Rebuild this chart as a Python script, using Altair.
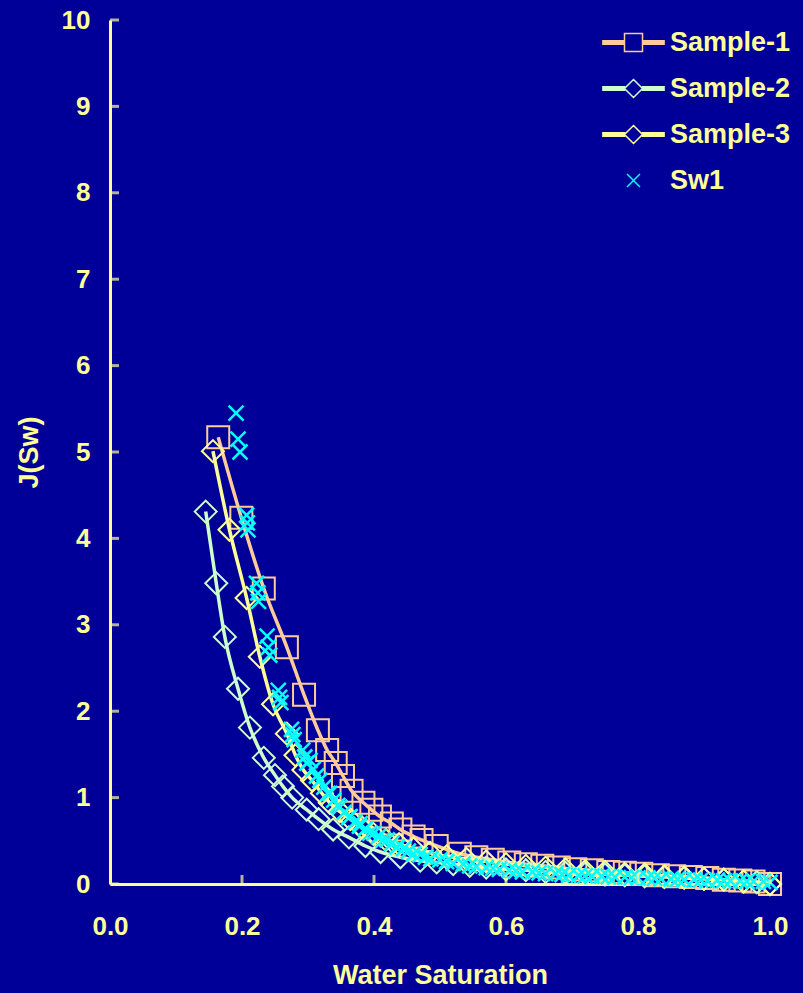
import altair as alt
import pandas as pd

# ---- data -------------------------------------------------------------
SERIES = ["Sample-1", "Sample-2", "Sample-3", "Sw1"]
COLORS = ["#FFCC99", "#CCFFCC", "#FFFF99", "#00FFFF"]

s1_sw = [0.164, 0.199, 0.233, 0.268, 0.294, 0.315, 0.329, 0.342, 0.353, 0.366,
         0.384, 0.396, 0.409, 0.427, 0.440, 0.460, 0.472, 0.495, 0.530, 0.555,
         0.580, 0.605, 0.630, 0.655, 0.680, 0.705, 0.730, 0.755, 0.780, 0.805,
         0.830, 0.855, 0.880, 0.905, 0.930, 0.955, 0.975, 1.000]
s1_j = [5.17, 4.24, 3.42, 2.74, 2.19, 1.78, 1.55, 1.40, 1.25, 1.08,
        0.94, 0.86, 0.78, 0.70, 0.63, 0.55, 0.51, 0.44, 0.35, 0.31,
        0.28, 0.25, 0.23, 0.21, 0.19, 0.17, 0.16, 0.14, 0.13, 0.12,
        0.10, 0.09, 0.08, 0.07, 0.05, 0.04, 0.03, 0.00]

s2_sw = [0.145, 0.161, 0.174, 0.194, 0.212, 0.233, 0.250, 0.262, 0.276, 0.298,
         0.316, 0.338, 0.362, 0.387, 0.410, 0.440, 0.470, 0.495, 0.520, 0.545,
         0.570, 0.600, 0.630, 0.660, 0.690, 0.720, 0.750, 0.780, 0.810, 0.840,
         0.870, 0.900, 0.930, 0.960, 0.980, 1.000]
s2_j = [4.31, 3.48, 2.86, 2.26, 1.81, 1.46, 1.26, 1.13, 1.00, 0.86,
        0.75, 0.63, 0.54, 0.44, 0.37, 0.31, 0.27, 0.25, 0.23, 0.21,
        0.19, 0.17, 0.16, 0.14, 0.13, 0.12, 0.11, 0.10, 0.09, 0.08,
        0.07, 0.06, 0.05, 0.03, 0.02, 0.00]

s3_sw = [0.156, 0.181, 0.207, 0.227, 0.247, 0.268, 0.281, 0.293, 0.306, 0.321,
         0.333, 0.348, 0.364, 0.381, 0.399, 0.418, 0.438, 0.460, 0.485, 0.510,
         0.540, 0.570, 0.600, 0.630, 0.660, 0.690, 0.720, 0.750, 0.780, 0.810,
         0.840, 0.870, 0.900, 0.930, 0.960, 1.000]
s3_j = [5.01, 4.10, 3.31, 2.63, 2.08, 1.74, 1.49, 1.32, 1.20, 1.05,
        0.94, 0.84, 0.75, 0.66, 0.58, 0.51, 0.46, 0.41, 0.36, 0.32,
        0.29, 0.26, 0.23, 0.21, 0.19, 0.17, 0.15, 0.14, 0.12, 0.11,
        0.09, 0.08, 0.06, 0.05, 0.03, 0.00]

sw1_sw = [0.191, 0.194, 0.197, 0.207, 0.208, 0.209, 0.222, 0.224, 0.225,
          0.238, 0.240, 0.242, 0.255, 0.257, 0.259, 0.275, 0.277, 0.279,
          0.292, 0.295, 0.298, 0.303, 0.308, 0.313, 0.318, 0.324, 0.330,
          0.333, 0.339, 0.345, 0.348, 0.355, 0.362, 0.364, 0.371, 0.378,
          0.379, 0.387, 0.394, 0.400, 0.407, 0.414, 0.420, 0.427, 0.435,
          0.445, 0.452, 0.460, 0.470, 0.478, 0.486, 0.500, 0.510, 0.520,
          0.535, 0.545, 0.555, 0.570, 0.580, 0.590, 0.605, 0.615, 0.625,
          0.640, 0.650, 0.660, 0.675, 0.685, 0.695, 0.710, 0.720, 0.730,
          0.745, 0.755, 0.765, 0.780, 0.790, 0.800, 0.815, 0.825, 0.835,
          0.850, 0.860, 0.870, 0.885, 0.895, 0.905, 0.920, 0.930, 0.940,
          0.955, 0.965, 0.975, 0.990, 1.000]
sw1_j = [5.45, 5.15, 5.00, 4.27, 4.18, 4.10, 3.48, 3.37, 3.27,
         2.87, 2.74, 2.65, 2.24, 2.16, 2.10, 1.79, 1.73, 1.67,
         1.55, 1.47, 1.40, 1.43, 1.33, 1.25, 1.20, 1.12, 1.05,
         1.05, 0.97, 0.91, 0.89, 0.83, 0.77, 0.78, 0.72, 0.67,
         0.70, 0.64, 0.59, 0.59, 0.55, 0.51, 0.51, 0.47, 0.43,
         0.41, 0.38, 0.35, 0.34, 0.31, 0.29, 0.28, 0.26, 0.24,
         0.23, 0.21, 0.20, 0.19, 0.18, 0.17, 0.16, 0.15, 0.14,
         0.14, 0.13, 0.12, 0.12, 0.11, 0.10, 0.10, 0.095, 0.09,
         0.09, 0.085, 0.08, 0.08, 0.075, 0.07, 0.07, 0.065, 0.06,
         0.06, 0.055, 0.05, 0.05, 0.045, 0.04, 0.045, 0.04, 0.035,
         0.035, 0.03, 0.03, 0.03, 0.02]

x_ticks = [0.0, 0.2, 0.4, 0.6, 0.8, 1.0]
y_ticks = [0, 1, 2, 3, 4, 5, 6, 7, 8, 9, 10]

# ---- styling ----------------------------------------------------------
BG = "#000099"
FG = "#FFFF99"
FONT = "Liberation Sans"
W, H = 660, 864

# legend symbols: a thick line segment (nested thin rectangles) with the marker on it
LINE = ("M-3.4,-0.2H-1V0.2H-3.4Z M1,-0.2H3.4V0.2H1Z "
        "M-3.4,-0.05H-1V0.05H-3.4Z M1,-0.05H3.4V0.05H1Z ")
LEGEND_SHAPES = [
    LINE + "M-1,-1H1V1H-1Z",
    LINE + "M-1,0L0,-1L1,0L0,1Z",
    LINE + "M-1,0L0,-1L1,0L0,1Z",
    "M-0.72,-0.72L0.72,0.72M0.72,-0.72L-0.72,0.72",
]
X_SHAPE = "M-1,-1L1,1M1,-1L-1,1"

x_enc = alt.X(
    "sw:Q",
    scale=alt.Scale(domain=[0, 1], nice=False, zero=False),
    axis=alt.Axis(values=x_ticks, format=".1f", title="Water Saturation",
                  labelPadding=29, titlePadding=23, labelFlush=False),
)
y_enc = alt.Y(
    "j:Q",
    scale=alt.Scale(domain=[0, 10], nice=False),
    axis=alt.Axis(values=y_ticks, format="d", title="J(Sw)",
                  labelPadding=20, titlePadding=18, labelFlush=False),
)

series_data = {
    "Sample-1": (s1_sw, s1_j),
    "Sample-2": (s2_sw, s2_j),
    "Sample-3": (s3_sw, s3_j),
    "Sw1": (sw1_sw, sw1_j),
}

layers = []
markers = {"Sample-1": "square", "Sample-2": "diamond", "Sample-3": "diamond"}
for name, color in zip(SERIES[:3], COLORS[:3]):
    sw, j = series_data[name]
    df = pd.DataFrame({"sw": sw, "j": j})
    base = alt.Chart(df).encode(x=x_enc, y=y_enc)
    layers.append(base.mark_line(color=color, strokeWidth=3.5, interpolate="monotone"))
    layers.append(base.mark_point(shape=markers[name], filled=False, color=color,
                                  size=484, strokeWidth=2, opacity=1))

sw, j = series_data["Sw1"]
sw1_df = pd.DataFrame({"sw": sw, "j": j})
layers.append(
    alt.Chart(sw1_df).mark_point(shape=X_SHAPE, filled=False, color=COLORS[3],
                                 size=225, strokeWidth=2.5, opacity=1)
    .encode(x=x_enc, y=y_enc)
)

# inward-pointing tick marks on both axes
ytick_df = pd.DataFrame({"j": y_ticks})
layers.append(
    alt.Chart(ytick_df).mark_tick(color=FG, thickness=3, size=9, orient="horizontal")
    .encode(y=y_enc, x=alt.value(4.5))
)
xtick_df = pd.DataFrame({"sw": x_ticks[1:]})
layers.append(
    alt.Chart(xtick_df).mark_tick(color=FG, thickness=3, size=9, orient="vertical")
    .encode(x=x_enc, y=alt.value(H - 4.5))
)

# legend driven by the series names (no marks drawn by this layer)
legend_df = pd.DataFrame({"series": SERIES, "sw": [0.5] * 4, "j": [5] * 4})
leg = alt.Legend(title=None, orient="none", legendX=510, legendY=9)
layers.append(
    alt.Chart(legend_df).transform_filter("datum.sw > 2")
    .mark_point(filled=False, strokeWidth=1.5)
    .encode(
        x=x_enc, y=y_enc,
        color=alt.Color("series:N", scale=alt.Scale(domain=SERIES, range=COLORS),
                        legend=leg),
        shape=alt.Shape("series:N", scale=alt.Scale(domain=SERIES, range=LEGEND_SHAPES),
                        legend=leg),
    )
)

chart = (
    alt.layer(*layers)
    .properties(width=W, height=H, autosize="none",
                padding={"left": 110, "top": 20, "right": 33, "bottom": 109},
                background=BG)
    .configure_view(stroke=None)
    .configure_axis(
        grid=False, ticks=False, domainColor=FG, domainWidth=3,
        labelColor=FG, labelFont=FONT, labelFontSize=26, labelFontWeight="bold",
        titleColor=FG, titleFont=FONT, titleFontSize=27, titleFontWeight="bold",
    )
    .configure_legend(
        symbolSize=324, symbolStrokeWidth=1.5, symbolOpacity=1,
        labelColor=FG, labelFont=FONT, labelFontSize=27, labelFontWeight="bold",
        labelOffset=23, rowPadding=18, padding=0, labelLimit=300,
    )
)

chart.save("out.html", embed_options={"renderer": "svg", "actions": False})
